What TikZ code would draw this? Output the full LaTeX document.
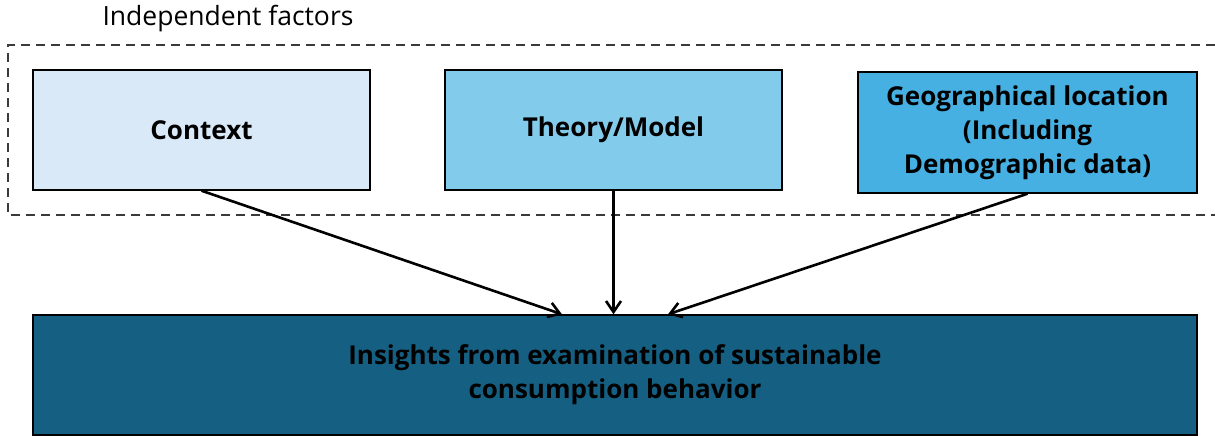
\documentclass[tikz,border=0pt]{standalone}
\usepackage{fontspec}
\setmainfont{Open Sans}
\usetikzlibrary{arrows.meta}
\definecolor{ctxfill}{HTML}{DAE9F7}
\definecolor{thyfill}{HTML}{83CBEB}
\definecolor{geofill}{HTML}{45B0E1}
\definecolor{outfill}{HTML}{156082}
\definecolor{dashgray}{HTML}{3A3A3A}
\begin{document}
\begin{tikzpicture}[x=1pt,y=-1pt,
  factor/.style={draw=black, line width=1.4pt, inner sep=0pt, align=center,
    font=\bfseries\fontsize{26}{34}\selectfont},
  groupframe/.style={draw=dashgray, line width=2pt, dash pattern=on 9pt off 6pt},
  flow/.style={draw=black, line width=2.6pt, -{Straight Barb[length=11pt,width=15pt]}}]
\useasboundingbox (0,0) rectangle (1215,436);

% dashed frame around the independent factors (open on the right)
\draw[groupframe] (1215,45) -- (8,45) -- (8,215) -- (1215,215);
\node[font=\fontsize{26.5}{30}\selectfont] (grp) at (228,19) {Independent factors};

% factor boxes
\node[factor, fill=ctxfill, minimum width=337pt, minimum height=120pt] (ctx) at (201.5,130) {Context};
\node[factor, fill=thyfill, minimum width=337pt, minimum height=120pt] (thy) at (613.5,130) {Theory/Model};
\node[factor, fill=geofill, minimum width=339pt, minimum height=121pt] (geo) at (1027.5,132.5)
  {Geographical location\\(Including\\Demographic data)};

% outcome box
\node[factor, fill=outfill, minimum width=1164pt, minimum height=120pt] (out) at (615,375)
  {Insights from examination of sustainable\\consumption behavior};

% connectors
\draw[flow] (ctx.south) -- ([xshift=-53pt]out.north);
\draw[flow] (thy.south) -- (thy.south |- out.north);
\draw[flow] (geo.south) -- ([xshift=53pt]out.north);
\end{tikzpicture}
\end{document}
